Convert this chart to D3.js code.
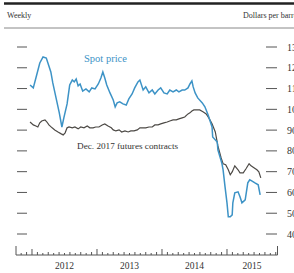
<!DOCTYPE html>
<html><head><meta charset="utf-8">
<script src="https://cdn.jsdelivr.net/npm/d3@7"></script>
<style>body{margin:0;background:#fff;}svg{display:block;font-family:"Liberation Serif","Times New Roman",serif;}</style>
</head><body>
<script>
const spotT = [2011.97,2012.02,2012.06,2012.12,2012.17,2012.22,2012.26,2012.29,2012.32,2012.37,2012.42,2012.46,2012.49,2012.54,2012.58,2012.62,2012.65,2012.68,2012.71,2012.74,2012.78,2012.83,2012.88,2012.92,2012.97,2013.02,2013.06,2013.09,2013.12,2013.15,2013.20,2013.25,2013.28,2013.31,2013.35,2013.40,2013.45,2013.49,2013.54,2013.58,2013.63,2013.66,2013.71,2013.75,2013.80,2013.85,2013.89,2013.94,2013.98,2014.03,2014.08,2014.12,2014.17,2014.22,2014.26,2014.31,2014.35,2014.40,2014.43,2014.46,2014.48,2014.51,2014.55,2014.62,2014.66,2014.71,2014.77,2014.78,2014.85,2014.86,2014.92,2014.94,2014.97,2015.00,2015.02,2015.05,2015.08,2015.09,2015.12,2015.17,2015.20,2015.23,2015.28,2015.32,2015.35,2015.38,2015.43,2015.48,2015.51];
const spotV = [111.7,110.3,115.1,122.3,125.2,124.7,120.9,118.0,112.7,105.5,98.3,91.5,95.9,102.6,111.7,114.1,113.2,114.6,111.3,112.2,108.8,109.8,108.4,110.3,109.8,112.2,115.1,118.0,115.1,111.7,107.9,104.5,101.2,103.1,103.6,102.6,102.1,105.0,107.4,110.3,113.2,114.1,109.3,110.8,107.9,109.3,107.4,109.3,110.3,107.9,107.4,109.3,108.4,109.3,108.4,109.3,109.3,110.3,112.2,113.7,110.8,107.9,105.5,103.1,101.2,97.3,91.5,86.7,84.3,80.5,74.2,70.9,62.7,55.0,48.3,48.3,49.2,55.0,59.8,60.3,57.9,55.0,56.4,64.6,66.1,65.6,64.6,63.7,58.8];
const futT = [2011.97,2012.02,2012.06,2012.09,2012.12,2012.15,2012.20,2012.23,2012.26,2012.31,2012.35,2012.40,2012.45,2012.48,2012.51,2012.54,2012.57,2012.62,2012.66,2012.71,2012.75,2012.80,2012.85,2012.89,2012.94,2012.98,2013.03,2013.08,2013.12,2013.17,2013.22,2013.25,2013.29,2013.34,2013.38,2013.43,2013.48,2013.52,2013.57,2013.62,2013.66,2013.71,2013.75,2013.80,2013.85,2013.89,2013.94,2013.98,2014.03,2014.08,2014.12,2014.17,2014.22,2014.26,2014.31,2014.35,2014.40,2014.43,2014.46,2014.49,2014.54,2014.58,2014.63,2014.68,2014.72,2014.77,2014.82,2014.86,2014.91,2014.94,2014.98,2015.02,2015.05,2015.08,2015.12,2015.17,2015.20,2015.25,2015.29,2015.34,2015.37,2015.42,2015.46,2015.49,2015.52];
const futV = [93.9,92.5,92.0,91.5,93.5,94.4,94.9,93.9,92.5,91.1,90.1,89.1,88.2,87.7,88.7,91.1,91.5,91.1,91.5,90.6,91.5,91.1,92.0,91.1,91.1,91.5,91.5,92.5,93.0,92.0,91.1,90.1,89.6,90.1,89.1,89.6,89.1,89.6,89.6,90.1,91.1,91.1,91.1,91.5,91.5,92.5,92.5,93.0,93.5,93.9,94.4,94.9,94.9,95.4,95.9,96.3,97.8,98.3,99.2,99.7,99.7,99.7,98.8,97.8,95.9,93.0,89.1,82.4,76.6,73.8,73.3,70.9,68.5,69.9,72.8,70.9,69.4,69.4,71.3,73.8,72.8,71.8,70.9,69.9,67.0];
const yTicks = [130,120,110,100,90,80,70,60,50,40];
const years = [2012,2013,2014,2015];
const yearLabelPos = [2012.5,2013.5,2014.5,2015.385];
const seriesLabels = ["Spot price","Dec. 2017 futures contracts"];

const W=294,H=273;
const svg=d3.select("body").append("svg").attr("width",W).attr("height",H);
svg.append("rect").attr("width",W).attr("height",H).attr("fill","#fff");

const x=d3.scaleLinear().domain([2011.754,2015.777]).range([16,277.5]);
const y=d3.scaleLinear().domain([40,130]).range([234,47]);

// header
svg.append("line").attr("x1",4).attr("x2",W).attr("y1",3.5).attr("y2",3.5).attr("stroke","#222").attr("stroke-width",2.5);
svg.append("line").attr("x1",4).attr("x2",W).attr("y1",28).attr("y2",28).attr("stroke","#888").attr("stroke-width",1);
svg.append("text").attr("x",7).attr("y",18).attr("font-size",8).attr("fill","#333").text("Weekly");
svg.append("text").attr("x",243).attr("y",18).attr("font-size",8).attr("fill","#333").text("Dollars per barrel");

// y ticks left & right
const tg=svg.append("g");
yTicks.forEach(v=>{
  tg.append("line").attr("x1",17).attr("x2",27).attr("y1",y(v)).attr("y2",y(v)).attr("stroke","#555").attr("stroke-width",1);
  tg.append("line").attr("x1",266).attr("x2",277).attr("y1",y(v)).attr("y2",y(v)).attr("stroke","#555").attr("stroke-width",1);
  tg.append("text").attr("x",287).attr("y",y(v)+3.5).attr("font-size",10).attr("fill","#333").text(v);
});

// x axis
const ax=svg.append("g").attr("stroke","#555").attr("stroke-width",1);
const y0=255;
ax.append("line").attr("x1",x.range()[0]).attr("x2",x.range()[1]).attr("y1",y0).attr("y2",y0);
ax.append("line").attr("x1",x.range()[0]).attr("x2",x.range()[0]).attr("y1",y0).attr("y2",y0-9);
ax.append("line").attr("x1",x.range()[1]).attr("x2",x.range()[1]).attr("y1",y0).attr("y2",y0-9);
for(let m=0;m<60;m++){
  const t=2011+ (9+m)/12;
  if(t<=x.domain()[0]+0.01||t>=x.domain()[1]-0.01) continue;
  const isYear=Math.abs(t-Math.round(t))<1e-6;
  const len=isYear?6:(m%2===0?3:2);
  ax.append("line").attr("x1",x(t)).attr("x2",x(t)).attr("y1",y0).attr("y2",y0-len);
}
years.forEach((yr,i)=>{
  svg.append("text").attr("x",x(yearLabelPos[i])).attr("y",269).attr("text-anchor","middle").attr("font-size",9.5).attr("fill","#333").text(yr);
});

const line=d3.line().x(d=>x(d[0])).y(d=>y(d[1]));
svg.append("path").datum(futT.map((t,i)=>[t,futV[i]])).attr("d",line).attr("fill","none").attr("stroke","#4d4a46").attr("stroke-width",1.2);
svg.append("path").datum(spotT.map((t,i)=>[t,spotV[i]])).attr("d",line).attr("fill","none").attr("stroke","#3d93c6").attr("stroke-width",1.5);

svg.append("text").attr("x",84).attr("y",62).attr("font-size",10.5).attr("fill","#3d93c6").text(seriesLabels[0]);
svg.append("text").attr("x",77).attr("y",149).attr("font-size",9.2).attr("fill","#333").text(seriesLabels[1]);
</script>
</body></html>
